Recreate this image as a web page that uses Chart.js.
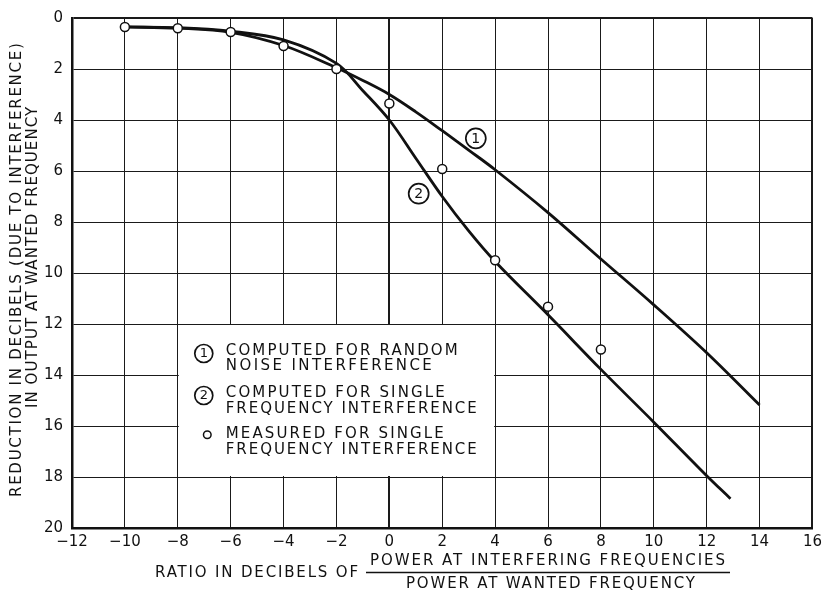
<!DOCTYPE html>
<html>
<head>
<meta charset="utf-8">
<script src="https://cdn.jsdelivr.net/npm/chart.js@4/dist/chart.umd.min.js"></script>
<style>
  html, body { margin: 0; padding: 0; background: #ffffff; }
  #wrap { position: relative; width: 827px; height: 594px; }
</style>
</head>
<body>
<div id="wrap"><canvas id="c"></canvas></div>
<script>
// ---- data ----
const curve1X = [-10, -8, -6, -4, -2, -1, 0, 1, 2, 3, 4, 6, 8, 10, 12, 14];
const curve1Y = [0.35, 0.4, 0.56, 1.08, 1.95, 2.45, 3.0, 3.68, 4.42, 5.18, 5.95, 7.63, 9.45, 11.25, 13.13, 15.18];

const curve2X = [-10, -8, -6, -4, -2, -1, 0, 1, 2, 3, 4, 6, 8, 10, 12, 12.9];
const curve2Y = [0.35, 0.38, 0.52, 0.86, 1.78, 2.85, 4.0, 5.5, 7.0, 8.35, 9.55, 11.64, 13.78, 15.85, 17.95, 18.85];

const measuredX = [-10, -8, -6, -4, -2, 0, 2, 4, 6, 8];
const measuredY = [0.35, 0.4, 0.55, 1.1, 2.0, 3.35, 5.92, 9.5, 11.32, 13.0];

const xTicks = [-12, -10, -8, -6, -4, -2, 0, 2, 4, 6, 8, 10, 12, 14, 16];
const yTicks = [0, 2, 4, 6, 8, 10, 12, 14, 16, 18, 20];

const yTitleLines = ['REDUCTION IN DECIBELS (DUE TO INTERFERENCE)', 'IN OUTPUT AT WANTED FREQUENCY'];
const xTitleLeft = 'RATIO IN DECIBELS OF';
const xTitleNum = 'POWER AT INTERFERING FREQUENCIES';
const xTitleDen = 'POWER AT WANTED FREQUENCY';
const legendItems = [
  { mark: '1', lines: ['COMPUTED FOR RANDOM', 'NOISE INTERFERENCE'] },
  { mark: '2', lines: ['COMPUTED FOR SINGLE', 'FREQUENCY INTERFERENCE'] },
  { mark: 'o', lines: ['MEASURED FOR SINGLE', 'FREQUENCY INTERFERENCE'] }
];
const curveTags = [ { label: '1', x: 3.27, y: 4.72 }, { label: '2', x: 1.11, y: 6.89 } ];

const toPts = (xs, ys) => xs.map((x, i) => ({ x: x, y: ys[i] }));
const fmt = v => (v < 0 ? '\u2212' + Math.abs(v) : String(v));
const FONT = '"DejaVu Sans", "Liberation Sans", sans-serif';

// draw text stretched to a given width via letter spacing
function fitText(ctx, text, left, cy, width, size) {
  ctx.save();
  ctx.font = size + 'px ' + FONT;
  ctx.textAlign = 'left';
  ctx.textBaseline = 'middle';
  if ('letterSpacing' in ctx) {
    ctx.letterSpacing = '0px';
    const w0 = ctx.measureText(text).width;
    const ls = (width - w0) / Math.max(1, text.length - 1);
    ctx.letterSpacing = ls.toFixed(2) + 'px';
  }
  ctx.fillText(text, left, cy);
  ctx.restore();
}

function circledDigit(ctx, d, cx, cy, r, size) {
  ctx.save();
  ctx.beginPath();
  ctx.arc(cx, cy, r, 0, Math.PI * 2);
  ctx.fillStyle = '#fff';
  ctx.fill();
  ctx.lineWidth = 1.7;
  ctx.strokeStyle = '#111';
  ctx.stroke();
  ctx.fillStyle = '#111';
  ctx.font = size + 'px ' + FONT;
  ctx.textAlign = 'center';
  ctx.textBaseline = 'middle';
  ctx.fillText(d, cx, cy + 0.5);
  ctx.restore();
}

const decorPlugin = {
  id: 'decor',
  beforeDatasetsDraw(chart) {
    const { ctx, scales } = chart;
    const x = scales.x, y = scales.y;
    // white legend panel (interior of the grid cells it covers)
    const l = x.getPixelForValue(-8) + 1, r = x.getPixelForValue(4) - 1;
    const t = y.getPixelForValue(12) + 1, b = y.getPixelForValue(18) - 1;
    ctx.save();
    ctx.fillStyle = '#ffffff';
    ctx.fillRect(l, t, r - l, b - t);
    ctx.restore();
  },
  afterDatasetsDraw(chart) {
    const { ctx, scales } = chart;
    const x = scales.x, y = scales.y;
    ctx.save();
    ctx.fillStyle = '#111';
    // legend
    const bl = x.getPixelForValue(-8), bt = y.getPixelForValue(12);
    const rows = [
      { mark: 29.5, l1: 27.3, l2: 41.8 },
      { mark: 71.5, l1: 69.5, l2: 84.8 },
      { mark: 110.7, l1: 110.3, l2: 125.7 }
    ];
    const widths = [[232, 206], [219, 251], [218, 251]];
    legendItems.forEach((it, i) => {
      const rw = rows[i];
      if (it.mark === 'o') {
        ctx.beginPath();
        ctx.arc(bl + 29.5, bt + rw.mark, 3.8, 0, Math.PI * 2);
        ctx.lineWidth = 1.5;
        ctx.strokeStyle = '#111';
        ctx.stroke();
      } else {
        circledDigit(ctx, it.mark, bl + 26, bt + rw.mark, 9, 13);
      }
      fitText(ctx, it.lines[0], bl + 48, bt + rw.l1, widths[i][0], 15);
      fitText(ctx, it.lines[1], bl + 48, bt + rw.l2, widths[i][1], 15);
    });
    // curve tags
    curveTags.forEach(tg => {
      circledDigit(ctx, tg.label, x.getPixelForValue(tg.x), y.getPixelForValue(tg.y), 10, 14);
    });
    ctx.restore();
  },
  afterDraw(chart) {
    const { ctx } = chart;
    ctx.save();
    ctx.fillStyle = '#111';
    // y title, rotated
    const yc = [[17, 270, 454], [33, 257.5, 301]];
    yTitleLines.forEach((s, i) => {
      ctx.save();
      ctx.translate(yc[i][0], yc[i][1]);
      ctx.rotate(-Math.PI / 2);
      fitText(ctx, s, -yc[i][2] / 2, 0, yc[i][2], 15);
      ctx.restore();
    });
    // x title with fraction
    fitText(ctx, xTitleLeft, 155, 573, 203, 15);
    fitText(ctx, xTitleNum, 370, 561, 355, 15);
    fitText(ctx, xTitleDen, 406, 584, 289, 15);
    ctx.beginPath();
    ctx.moveTo(366, 572.5);
    ctx.lineTo(730, 572.5);
    ctx.lineWidth = 1.7;
    ctx.strokeStyle = '#111';
    ctx.stroke();
    ctx.restore();
  }
};

const gridColor = '#1a1a1a';

new Chart(document.getElementById('c'), {
  type: 'scatter',
  data: {
    datasets: [
      {
        label: 'Measured for single frequency interference',
        data: toPts(measuredX, measuredY),
        showLine: false,
        pointRadius: 4.5,
        pointBackgroundColor: '#ffffff',
        pointBorderColor: '#111',
        pointBorderWidth: 1.5,
        order: 0
      },
      {
        label: 'Computed for random noise interference',
        data: toPts(curve1X, curve1Y),
        showLine: true,
        borderColor: '#111',
        borderWidth: 2.8,
        pointRadius: 0,
        tension: 0.35,
        order: 1
      },
      {
        label: 'Computed for single frequency interference',
        data: toPts(curve2X, curve2Y),
        showLine: true,
        borderColor: '#111',
        borderWidth: 2.8,
        pointRadius: 0,
        tension: 0.35,
        order: 2
      }
    ]
  },
  options: {
    responsive: true,
    maintainAspectRatio: false,
    animation: false,
    layout: { padding: { top: 11, right: 12, left: 0, bottom: 0 } },
    plugins: { legend: { display: false }, tooltip: { enabled: false }, title: { display: false } },
    scales: {
      x: {
        type: 'linear',
        min: -12, max: 16,
        afterBuildTicks: s => { s.ticks = xTicks.map(v => ({ value: v })); },
        afterFit: s => { s.height = 66; },
        ticks: { callback: v => fmt(v), color: '#111', padding: 5, font: { family: FONT, size: 15 }, maxRotation: 0, autoSkip: false },
        grid: {
          color: gridColor,
          lineWidth: c => (c.tick && (c.tick.value === 0 || c.tick.value === 16) ? 2 : 1),
          drawTicks: false
        },
        border: { color: '#111', width: 2.5 }
      },
      y: {
        type: 'linear',
        reverse: true,
        min: 0, max: 20,
        afterBuildTicks: s => { s.ticks = yTicks.map(v => ({ value: v })); },
        afterFit: s => { s.width = 72; },
        ticks: { callback: v => fmt(v), color: '#111', padding: 9, font: { family: FONT, size: 15 }, autoSkip: false },
        grid: {
          color: gridColor,
          lineWidth: c => (c.tick && c.tick.value === 0 ? 2 : 1),
          drawTicks: false
        },
        border: { color: '#111', width: 2.5 }
      }
    }
  },
  plugins: [decorPlugin]
});
</script>
</body>
</html>
